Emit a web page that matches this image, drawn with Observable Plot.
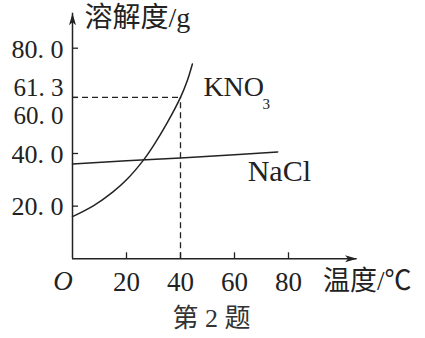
<!DOCTYPE html>
<html><head><meta charset="utf-8">
<script src="https://cdn.jsdelivr.net/npm/d3@7"></script>
<script src="https://cdn.jsdelivr.net/npm/@observablehq/plot@0.6"></script>
<style>body{margin:0;background:#fff}</style>
</head><body><div id="chart"></div>
<script>
// Data
const kno3T = [0, 8, 15, 20, 26.2, 30, 35, 40, 42.5, 44.4];
const kno3S = [16.0, 20.3, 25.4, 30.0, 37.4, 43.0, 51.5, 61.3, 67.6, 74.0];
const naclT = [0, 20, 40, 60, 76];
const naclS = [36.0, 37.2, 38.3, 39.5, 40.6];
const xTicks = [20, 40, 60, 80];
const yTicks = [20, 40, 61.3, 80];
const yLabelsPlain = [20, 40, 80];
const yLabelUp = [61.3];
const yLabelDown = [60];
const markT = 40, markS = 61.3;
const xAxisEnd = 105.4, yAxisEnd = 93.3;
const yTitle = "溶解度/g";
const xTitle = "温度/℃";
const originLabel = "O";
const caption = "第 2 题";
const kno3Name = "KNO", kno3Sub = "3", naclName = "NaCl";

const kno3 = kno3T.map((t, i) => ({t, s: kno3S[i]}));
const nacl = naclT.map((t, i) => ({t, s: naclS[i]}));
const fmt = d => d3.format(".1f")(d).replace(".", ". ");
const ink = "#222";
const serif = "'Liberation Serif', 'Noto Sans CJK SC', serif";
const arrowHead = {draw(ctx) { ctx.moveTo(0, 0); ctx.lineTo(-3.5, 12); ctx.lineTo(0, 9); ctx.lineTo(3.5, 12); ctx.closePath(); }};

const chart = Plot.plot({
  width: 425, height: 338,
  marginLeft: 72, marginRight: 137, marginTop: 47.7, marginBottom: 79.7,
  x: {domain: [0, 80], axis: null},
  y: {domain: [0, 80], axis: null},
  style: {fontFamily: serif, color: ink, background: "white", overflow: "visible"},
  marks: [
    // axes
    Plot.ruleX([0], {y1: 0, y2: yAxisEnd, stroke: ink, strokeWidth: 1.5}),
    Plot.ruleY([0], {x1: 0, x2: xAxisEnd, stroke: ink, strokeWidth: 1.5}),
    Plot.dot([{t: 0, s: yAxisEnd}], {x: "t", y: "s", symbol: arrowHead, fill: ink, stroke: "none", r: 5}),
    Plot.dot([{t: xAxisEnd, s: 0}], {x: "t", y: "s", symbol: arrowHead, fill: ink, stroke: "none", r: 5, rotate: 90}),
    // ticks (inside)
    Plot.ruleY(yTicks, {x1: 0, x2: 0, insetRight: -6, stroke: ink, strokeWidth: 1.3}),
    Plot.ruleX(xTicks, {y1: 0, y2: 0, insetBottom: 6, stroke: ink, strokeWidth: 1.3}),
    // tick labels
    Plot.text(yLabelsPlain, {x: 0, y: d => d, text: fmt, textAnchor: "end", dx: -9, dy: 1, fontSize: 26, fill: ink}),
    Plot.text(yLabelUp, {x: 0, y: d => d, text: fmt, textAnchor: "end", dx: -9, dy: -9.5, fontSize: 25, fill: ink}),
    Plot.text(yLabelDown, {x: 0, y: d => d, text: fmt, textAnchor: "end", dx: -9, dy: 15.5, fontSize: 25, fill: ink}),
    Plot.text(xTicks, {x: d => d, y: 0, text: d => String(d), dy: 24, fontSize: 27, fill: ink}),
    Plot.text([originLabel], {x: 0, y: 0, text: d => d, dx: -9.5, dy: 23, fontSize: 27, fontStyle: "italic", fill: ink}),
    // axis titles
    Plot.text([yTitle], {x: 0, y: yAxisEnd, text: d => d, textAnchor: "start", dx: 12, dy: 5, fontSize: 28, fill: ink}),
    Plot.text([xTitle], {x: xAxisEnd, y: 0, text: d => d, textAnchor: "start", dx: -34, dy: 23, fontSize: 27, fill: ink}),
    // dashed guides
    Plot.ruleY([markS], {x1: 0, x2: markT, stroke: ink, strokeWidth: 1.3, strokeDasharray: "6,4"}),
    Plot.ruleX([markT], {y1: 0, y2: markS, stroke: ink, strokeWidth: 1.3, strokeDasharray: "6,4"}),
    // curves
    Plot.line(kno3, {x: "t", y: "s", curve: "catmull-rom", stroke: ink, strokeWidth: 1.5}),
    Plot.line(nacl, {x: "t", y: "s", stroke: ink, strokeWidth: 1.5}),
    // series labels
    Plot.text(kno3.slice(-1), {x: "t", y: "s", text: () => kno3Name, textAnchor: "start", lineAnchor: "bottom", dx: 11, dy: 32, fontSize: 28, fill: ink}),
    Plot.text(kno3.slice(-1), {x: "t", y: "s", text: () => kno3Sub, textAnchor: "start", lineAnchor: "bottom", dx: 70, dy: 45, fontSize: 15, fill: ink}),
    Plot.text(nacl.slice(-1), {x: "t", y: "s", text: () => naclName, textAnchor: "start", lineAnchor: "bottom", dx: -30, dy: 29, fontSize: 30, fill: ink}),
    // caption
    Plot.text([caption], {frameAnchor: "bottom", text: d => d, dx: 31, dy: 68, fontSize: 26, fill: "#333"})
  ]
});
document.getElementById("chart").append(chart);
</script>
</body></html>
